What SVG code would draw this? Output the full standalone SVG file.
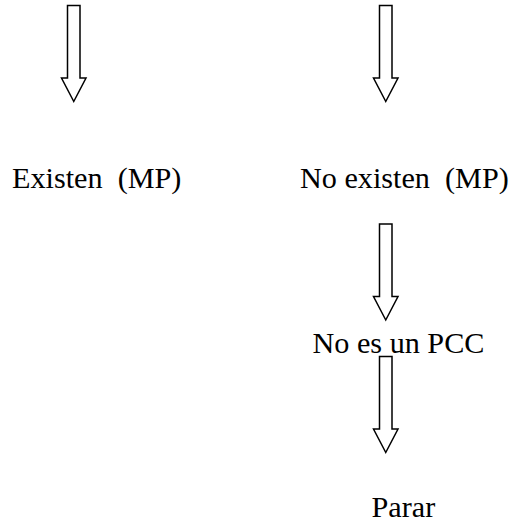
<svg xmlns="http://www.w3.org/2000/svg" width="511" height="524" viewBox="0 0 511 524">
  <style>
    .lbl { font-size: 30.2px; fill: #000; white-space: pre; }
    .arrow { fill: #fff; stroke: #000; stroke-width: 1.5; stroke-linejoin: miter; }
  </style>
  <defs>
    <!-- hollow block arrow pointing down, origin at top-left of shaft -->
    <path id="blockArrow" d="M0,0 H12.5 V72.5 H18.5 L6.25,96 L-6,72.5 H0 Z"/>
  </defs>
  <rect width="511" height="524" fill="#fff"/>

  <g id="connectors">
    <use href="#blockArrow" class="arrow" x="67.5" y="5.5"/>
    <use href="#blockArrow" class="arrow" x="379.5" y="5.5"/>
    <use href="#blockArrow" class="arrow" x="379.5" y="224"/>
    <use href="#blockArrow" class="arrow" x="379.5" y="356.5"/>
  </g>

  <g font-family="Liberation Serif, DejaVu Serif, serif">
    <g id="existen">
      <text class="lbl" x="12" y="188">Existen  (MP)</text>
    </g>
    <g id="no-existen">
      <text class="lbl" x="300" y="188">No existen  (MP)</text>
    </g>
    <g id="no-es-pcc">
      <text class="lbl" x="312.5" y="353">No es un PCC</text>
    </g>
    <g id="parar">
      <text class="lbl" x="371.5" y="517">Parar</text>
    </g>
  </g>
</svg>
